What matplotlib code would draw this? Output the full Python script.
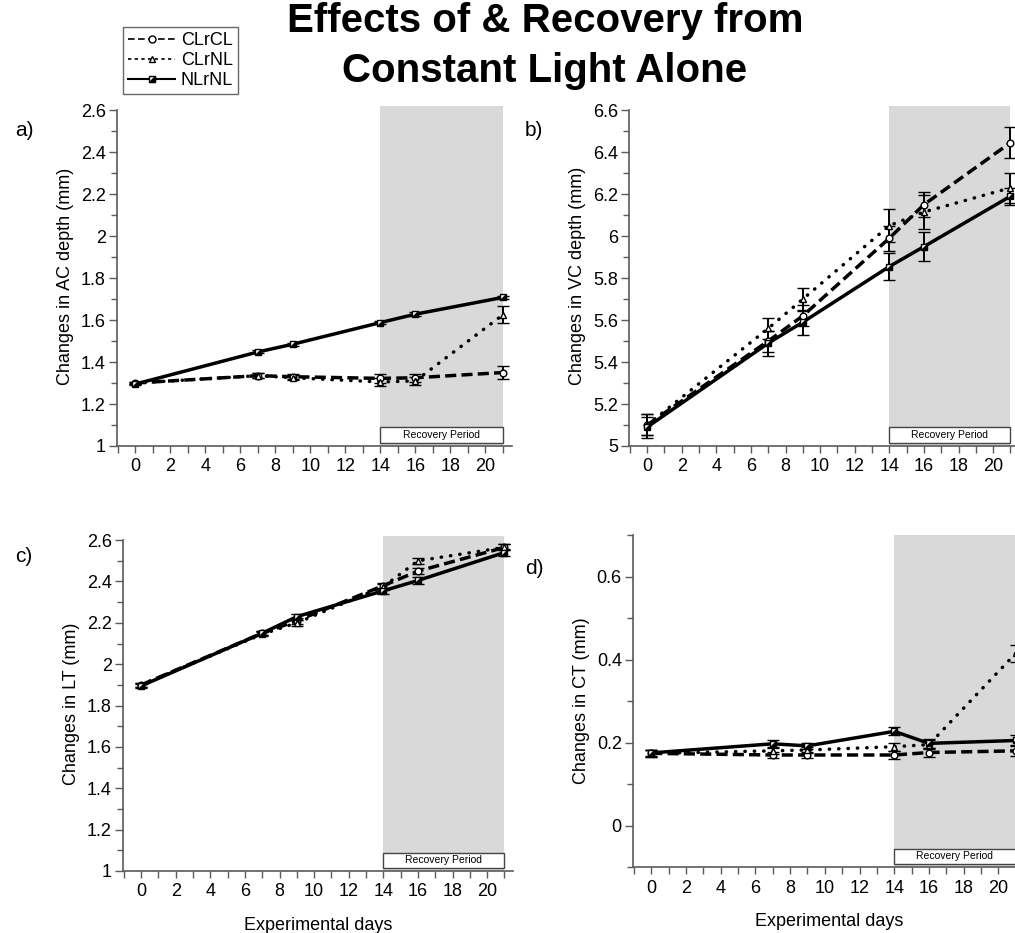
import matplotlib
matplotlib.use("Agg")
import matplotlib.pyplot as plt
from matplotlib.lines import Line2D
from matplotlib.patches import Rectangle
from matplotlib.ticker import MultipleLocator, FuncFormatter
from matplotlib.legend_handler import HandlerTuple
import matplotlib.transforms as mtransforms

plt.rcParams["font.family"] = ["Liberation Sans", "DejaVu Sans"]

# ---------------------------------------------------------------------------
# Data
# ---------------------------------------------------------------------------
days = [0, 7, 9, 14, 16, 21]
series_names = ["CLrCL", "CLrNL", "NLrNL"]

ac_clrcl = [1.30, 1.335, 1.33, 1.322, 1.325, 1.35]
ac_clrnl = [1.30, 1.335, 1.325, 1.305, 1.31, 1.625]
ac_nlrnl = [1.295, 1.448, 1.485, 1.588, 1.628, 1.708]
ac_err_clrcl = [0.005, 0.012, 0.012, 0.02, 0.02, 0.03]
ac_err_clrnl = [0.005, 0.012, 0.012, 0.02, 0.02, 0.04]
ac_err_nlrnl = [0.006, 0.007, 0.007, 0.007, 0.008, 0.008]

vc_clrcl = [5.10, 5.50, 5.62, 5.99, 6.15, 6.445]
vc_clrnl = [5.10, 5.56, 5.70, 6.05, 6.115, 6.23]
vc_nlrnl = [5.09, 5.49, 5.59, 5.855, 5.95, 6.19]
vc_err_clrcl = [0.05, 0.05, 0.05, 0.06, 0.06, 0.075]
vc_err_clrnl = [0.05, 0.05, 0.055, 0.08, 0.08, 0.07]
vc_err_nlrnl = [0.05, 0.06, 0.06, 0.065, 0.07, 0.04]

lt_clrcl = [1.90, 2.15, 2.21, 2.38, 2.45, 2.565]
lt_clrnl = [1.90, 2.145, 2.20, 2.375, 2.50, 2.565]
lt_nlrnl = [1.895, 2.15, 2.23, 2.355, 2.405, 2.54]
lt_err = [0.01, 0.01, 0.015, 0.015, 0.015, 0.015]

ct_clrcl = [0.174, 0.17, 0.17, 0.17, 0.176, 0.18]
ct_clrnl = [0.174, 0.18, 0.182, 0.19, 0.195, 0.415]
ct_nlrnl = [0.175, 0.197, 0.192, 0.227, 0.198, 0.205]
ct_err = [0.008, 0.008, 0.008, 0.01, 0.01, 0.012]
ct_err_clrnl = [0.008, 0.008, 0.008, 0.01, 0.01, 0.02]

recovery_start, recovery_end = 14, 21

# ---------------------------------------------------------------------------
# Styles
# ---------------------------------------------------------------------------
W, H = 1015, 933
SPINE = "#5a5a5a"
SHADE = "#d9d9d9"
LW = 2.5
MS = 4.8
DASHED = (0, (3.2, 1.5))
DOTTED = (0, (0.1, 2.6))
HALF_SQ = [(-1, -1), (1, -1), (1, 1), (-1, -1)]

fig = plt.figure(figsize=(W / 100, H / 100), dpi=100)

panels = [
    # rect, ylim, major, top tick, ylabel, letter, letter pos (px), data, xlabel?
    ([0.1153, 0.522, 0.3888, 0.3644], (1, 2.62), 0.2, 2.6, "Changes in AC depth (mm)",
     "a)", (15, 130), (ac_clrcl, ac_err_clrcl), (ac_clrnl, ac_err_clrnl),
     (ac_nlrnl, ac_err_nlrnl), False),
    ([0.6197, 0.522, 0.3843, 0.3644], (5, 6.62), 0.2, 6.6, "Changes in VC depth (mm)",
     "b)", (525, 130), (vc_clrcl, vc_err_clrcl), (vc_clrnl, vc_err_clrnl),
     (vc_nlrnl, vc_err_nlrnl), False),
    ([0.1212, 0.0665, 0.3843, 0.359], (1, 2.62), 0.2, 2.6, "Changes in LT (mm)",
     "c)", (15, 557), (lt_clrcl, lt_err), (lt_clrnl, lt_err), (lt_nlrnl, lt_err), True),
    ([0.6236, 0.0707, 0.3857, 0.3558], (-0.1, 0.7), 0.2, 0.7, "Changes in CT (mm)",
     "d)", (525, 568), (ct_clrcl, ct_err), (ct_clrnl, ct_err_clrnl), (ct_nlrnl, ct_err), True),
]

for rect, ylim, major, ytop, ylabel, letter, lpos, s1, s2, s3, show_xlabel in panels:
    ax = fig.add_axes(rect)
    ax.set_xlim(-1.05, 21.5)
    ax.set_ylim(*ylim)
    ax.axvspan(recovery_start, recovery_end, color=SHADE, zorder=0, lw=0)

    trans = mtransforms.blended_transform_factory(ax.transData, ax.transAxes)
    ax.add_patch(Rectangle((recovery_start, 0.008), recovery_end - recovery_start, 0.047,
                           transform=trans, facecolor="white", edgecolor="#444444",
                           lw=1.0, zorder=1))
    ax.text((recovery_start + recovery_end) / 2, 0.032, "Recovery Period",
            transform=trans, ha="center", va="center", fontsize=7.5, zorder=2)

    ekw = dict(ecolor="black", elinewidth=1.4, capsize=4, capthick=1.6, zorder=3)
    ax.errorbar(days, s1[0], yerr=s1[1], color="black", lw=LW, ls=DASHED,
                marker="o", ms=MS, mfc="white", mec="black", mew=1.0, **ekw)
    ax.errorbar(days, s2[0], yerr=s2[1], color="black", lw=LW, ls=DOTTED,
                dash_capstyle="round", marker="^", ms=MS, mfc="white", mec="black",
                mew=1.0, **ekw)
    ax.errorbar(days, s3[0], yerr=s3[1], color="black", lw=LW, ls="-",
                marker="s", ms=MS, mfc="white", mec="black", mew=1.0, **ekw)
    ax.plot(days, s3[0], ls="none", marker=HALF_SQ, ms=MS - 0.8, color="black", zorder=4)

    for side in ("top", "right"):
        ax.spines[side].set_visible(False)
    for side in ("left", "bottom"):
        ax.spines[side].set_color(SPINE)
        ax.spines[side].set_linewidth(1.2)
    ax.spines["left"].set_bounds(ylim[0], ytop)

    ax.set_xticks(range(0, 21, 2))
    ax.xaxis.set_minor_locator(MultipleLocator(1))
    ax.yaxis.set_major_locator(MultipleLocator(major))
    ax.yaxis.set_minor_locator(MultipleLocator(major / 2))
    ax.tick_params(axis="both", which="both", color=SPINE, width=1.0, labelsize=13)
    ax.tick_params(axis="x", which="both", length=5, pad=4)
    ax.tick_params(axis="y", which="major", length=6, pad=2)
    ax.tick_params(axis="y", which="minor", length=4)
    ax.yaxis.set_major_formatter(FuncFormatter(lambda v, p: f"{v:g}"))

    ax.set_ylabel(ylabel, fontsize=13, labelpad=5)
    if show_xlabel:
        ax.set_xlabel("Experimental days", fontsize=13, labelpad=12)

    fig.text(lpos[0] / W, 1 - lpos[1] / H, letter, fontsize=15, ha="left", va="center")

# ---------------------------------------------------------------------------
# Title and legend
# ---------------------------------------------------------------------------
fig.text(0.537, 0.9657, "Effects of & Recovery from", ha="center", va="baseline",
         fontsize=29, fontweight="bold")
fig.text(0.537, 0.912, "Constant Light Alone", ha="center", va="baseline",
         fontsize=29, fontweight="bold")

h1 = Line2D([], [], color="black", lw=1.2, ls=(0, (4, 2)), marker="o", ms=5,
            mfc="white", mec="black")
h2 = Line2D([], [], color="black", lw=1.2, ls=(0, (2, 2)), marker="^", ms=5,
            mfc="white", mec="black")
h3a = Line2D([], [], color="black", lw=1.5, ls="-", marker="s", ms=5,
             mfc="white", mec="black")
h3b = Line2D([], [], ls="none", marker=HALF_SQ, ms=4.2, color="black")
leg = fig.legend([h1, h2, (h3a, h3b)], series_names,
                 handler_map={tuple: HandlerTuple(ndivide=1, pad=0)},
                 loc="upper left", bbox_to_anchor=(123 / W, 1 - 27 / H),
                 fontsize=13, frameon=True, fancybox=False, handlelength=2.6,
                 handletextpad=0.3, borderpad=0.3, labelspacing=0.15,
                 borderaxespad=0)
leg.get_frame().set_edgecolor("#444444")
leg.get_frame().set_linewidth(1.0)

fig.savefig("out.png", dpi=100)
